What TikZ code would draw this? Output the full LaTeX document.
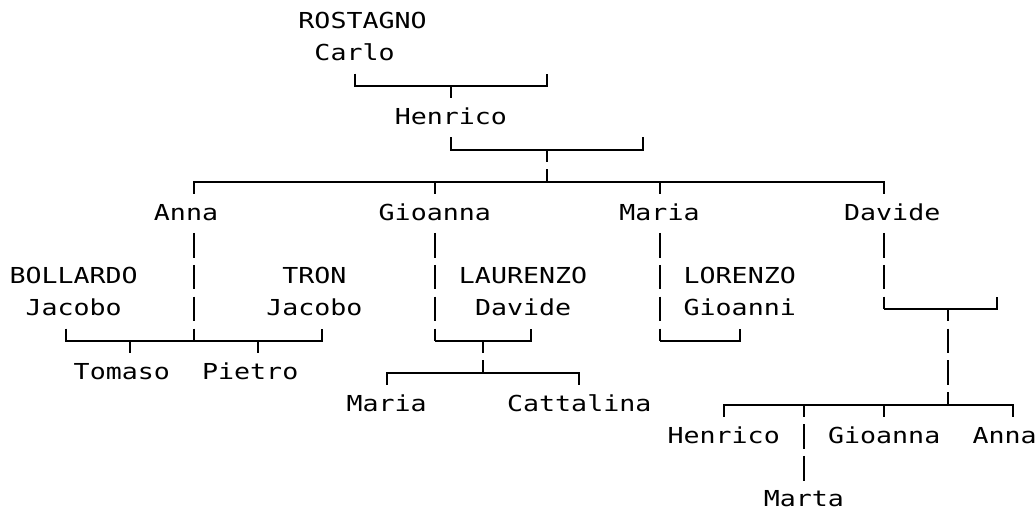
\documentclass[tikz,border=0pt]{standalone}
\usepackage{fontspec}
\newfontfamily\gmono[FakeStretch=1.21]{DejaVu Sans Mono}
\newcommand\rowL[1]{#1-0.21}
\newcommand\rowT[1]{#1-0.596}
\newcommand\rowB[1]{#1+0.176}
\begin{document}
\begin{tikzpicture}[x=16.05pt,y=-31.85pt,
  person/.style={font=\gmono\fontsize{22pt}{22pt}\selectfont, anchor=base, inner sep=0pt, text=black},
  bar/.style={line width=2pt, draw=black, line join=miter},
  run/.style={line width=2pt, draw=black, dash pattern=on 24.6pt off 7.25pt},
  runmid/.style={run, dash phase=12.3pt}]
\useasboundingbox (-17.5pt,29pt) rectangle (1018.5pt,-481pt);

% people
\node[person] (rostagno) at (21.5,0) {ROSTAGNO};
\node[person] (carlo) at (21,1) {Carlo};
\node[person] (henrico) at (27,3) {Henrico};
\node[person] (anna) at (10.5,6) {Anna};
\node[person] (gioanna) at (26,6) {Gioanna};
\node[person] (maria) at (40,6) {Maria};
\node[person] (davide) at (54.5,6) {Davide};
\node[person] (bollardo) at (3.5,8) {BOLLARDO};
\node[person] (jacoboB) at (3.5,9) {Jacobo};
\node[person] (tron) at (18.5,8) {TRON};
\node[person] (jacoboT) at (18.5,9) {Jacobo};
\node[person] (laurenzo) at (31.5,8) {LAURENZO};
\node[person] (davideL) at (31.5,9) {Davide};
\node[person] (lorenzo) at (45,8) {LORENZO};
\node[person] (gioanni) at (45,9) {Gioanni};
\node[person] (tomaso) at (6.5,11) {Tomaso};
\node[person] (pietro) at (14.5,11) {Pietro};
\node[person] (mariaG) at (23,12) {Maria};
\node[person] (cattalina) at (35,12) {Cattalina};
\node[person] (henricoD) at (44,13) {Henrico};
\node[person] (gioannaD) at (54,13) {Gioanna};
\node[person] (annaD) at (61.5,13) {Anna};
\node[person] (marta) at (49,15) {Marta};

% junction coordinates
\coordinate (carloJ) at (21,\rowL{2});
\coordinate (carloS) at (33,\rowL{2});
\coordinate (carloC) at (27,\rowL{2});
\coordinate (henricoJ) at (27,\rowL{4});
\coordinate (henricoS) at (39,\rowL{4});
\coordinate (henricoC) at (33,\rowL{4});
\coordinate (sibL) at (11,\rowL{5});
\coordinate (sibM) at (33,\rowL{5});
\coordinate (sibR) at (54,\rowL{5});
\coordinate (annaJ) at (11,\rowL{10});
\coordinate (bollJ) at (3,\rowL{10});
\coordinate (tronJ) at (19,\rowL{10});
\coordinate (tomasoJ) at (7,\rowL{10});
\coordinate (pietroJ) at (15,\rowL{10});
\coordinate (gioannaJ) at (26,\rowL{10});
\coordinate (laurJ) at (32,\rowL{10});
\coordinate (gioannaC) at (29,\rowL{10});
\coordinate (gkidsM) at (29,\rowL{11});
\coordinate (gkidsL) at (23,\rowL{11});
\coordinate (gkidsR) at (35,\rowL{11});
\coordinate (mariaJ) at (40,\rowL{10});
\coordinate (lorJ) at (45,\rowL{10});
\coordinate (davideJ) at (54,\rowL{9});
\coordinate (davideS) at (61,\rowL{9});
\coordinate (davideC) at (58,\rowL{9});
\coordinate (dkidsM) at (58,\rowL{12});
\coordinate (dkidsL) at (44,\rowL{12});
\coordinate (dkidsR) at (62,\rowL{12});
\coordinate (dkidsG) at (54,\rowL{12});
\coordinate (dkidsT) at (49,\rowL{12});

% Carlo -> Henrico
\draw[bar] (21,\rowT{2}) -- (carloJ) -- (carloS) -- (33,\rowT{2});
\draw[bar] (carloC) -- (27,\rowB{2});
% Henrico -> children
\draw[bar] (27,\rowT{4}) -- (henricoJ) -- (henricoS) -- (39,\rowT{4});
\draw[runmid] (henricoC) -- (sibM);
\draw[bar] (11,\rowB{5}) -- (sibL) -- (sibR) -- (54,\rowB{5});
\draw[bar] (26,\rowL{5}) -- (26,\rowB{5});
\draw[bar] (40,\rowL{5}) -- (40,\rowB{5});
% Anna, two marriages
\draw[run] (11,\rowT{7}) -- (annaJ);
\draw[bar] (3,\rowT{10}) -- (bollJ) -- (tronJ) -- (19,\rowT{10});
\draw[bar] (tomasoJ) -- (7,\rowB{10});
\draw[bar] (pietroJ) -- (15,\rowB{10});
% Gioanna + LAURENZO Davide
\draw[run] (26,\rowT{7}) -- (gioannaJ);
\draw[bar] (gioannaJ) -- (laurJ) -- (32,\rowT{10});
\draw[runmid] (gioannaC) -- (gkidsM);
\draw[bar] (23,\rowB{11}) -- (gkidsL) -- (gkidsR) -- (35,\rowB{11});
% Maria + LORENZO Gioanni
\draw[run] (40,\rowT{7}) -- (mariaJ);
\draw[bar] (mariaJ) -- (lorJ) -- (45,\rowT{10});
% Davide
\draw[run] (54,\rowT{7}) -- (davideJ);
\draw[bar] (davideJ) -- (davideS) -- (61,\rowT{9});
\draw[runmid] (davideC) -- (dkidsM);
\draw[bar] (44,\rowB{12}) -- (dkidsL) -- (dkidsR) -- (62,\rowB{12});
\draw[bar] (dkidsG) -- (54,\rowB{12});
\draw[runmid] (dkidsT) -- (49,\rowB{14});
\end{tikzpicture}
\end{document}
